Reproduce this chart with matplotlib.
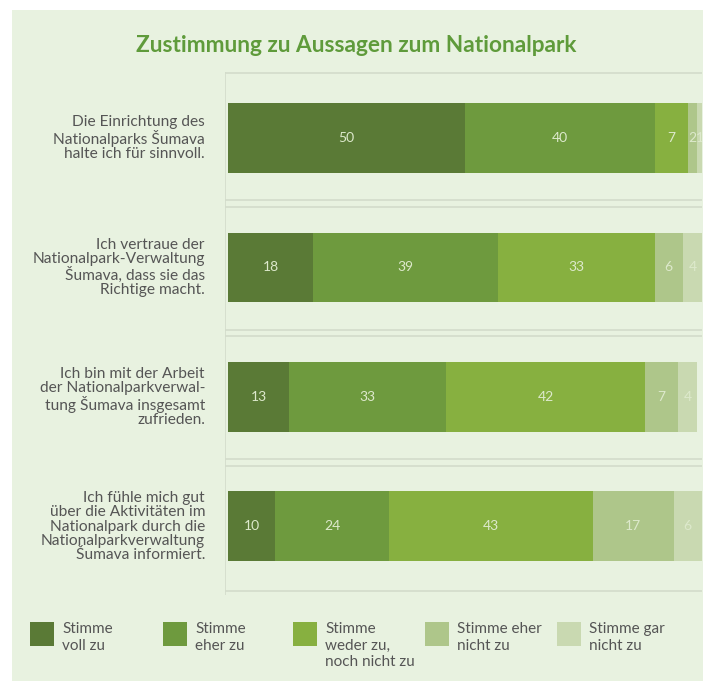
import numpy as np
import matplotlib.pyplot as plt
from matplotlib.patches import Rectangle

statements = [
    'Die Einrichtung des\nNationalparks Šumava\nhalte ich für sinnvoll.',
    'Ich vertraue der\nNationalpark-Verwaltung\nŠumava, dass sie das\nRichtige macht.',
    'Ich bin mit der Arbeit\nder Nationalparkverwal-\ntung Šumava insgesamt\nzufrieden.',
    'Ich fühle mich gut\nüber die Aktivitäten im\nNationalpark durch die\nNationalparkverwaltung\nŠumava informiert.',
]
categories = ['Stimme\nvoll zu', 'Stimme\neher zu', 'Stimme\nweder zu,\nnoch nicht zu',
              'Stimme eher\nnicht zu', 'Stimme gar\nnicht zu']
voll_zu = [50, 18, 13, 10]
eher_zu = [40, 39, 33, 24]
weder_noch = [7, 33, 42, 43]
eher_nicht = [2, 6, 7, 17]
gar_nicht = [1, 4, 4, 6]
series = [voll_zu, eher_zu, weder_noch, eher_nicht, gar_nicht]
colors = ['#5a7a36', '#6e9a3e', '#87b040', '#aec68a', '#c9d9b1']

plt.rcParams['font.family'] = ['Lato', 'DejaVu Sans']

W, H = 703, 681
fig = plt.figure(figsize=(W / 100, H / 100), dpi=100, facecolor='white')
fig.patches.append(Rectangle((12 / W, 0), 1, (H - 10) / H, transform=fig.transFigure,
                             facecolor='#e8f2e0', edgecolor='none', zorder=-10))

fig.text(356 / W, 1 - 45 / H, 'Zustimmung zu Aussagen zum Nationalpark', ha='center', va='center',
         fontsize=16.3, fontweight='bold', color='#5f9b3b')

# axes: x 225..702 px, y 72..595 px
ax = fig.add_axes([225 / W, 1 - 595 / H, (702 - 225) / W, (595 - 72) / H])
ax.set_facecolor('none')
ax.set_xlim(-0.6, 100)
ax.set_ylim(3.53, -0.51)
ax.axis('off')

y = np.arange(len(statements))
left = np.zeros(len(statements))
for vals, col in zip(series, colors):
    vals = np.array(vals, dtype=float)
    ax.barh(y, vals, left=left, height=0.54, color=col, edgecolor='none')
    for yi, l, v in zip(y, left, vals):
        ax.text(l + v / 2, yi, '%d' % v, ha='center', va='center', fontsize=10,
                color='#dde9cc', clip_on=True)
    left += vals

# row frames
line_col = '#d3dccb'
ax.axhline(-0.5, color=line_col, lw=1.2)
for i in range(3):
    ax.axhline(i + 0.48, color=line_col, lw=1.2)
    ax.axhline(i + 0.53, color=line_col, lw=1.2)
ax.axhline(3.5, color=line_col, lw=1.2)
ax.axvline(-0.6, color=line_col, lw=1.2)

for i, s in enumerate(statements):
    yc = 138 + 129.5 * i
    fig.text(205 / W, 1 - yc / H, s, ha='right', va='center', fontsize=11.2,
             color='#555555', linespacing=1.03)

# legend
leg_x = [30, 163, 293, 425, 557]
for x0, lab, col in zip(leg_x, categories, colors):
    fig.patches.append(Rectangle((x0 / W, 1 - 646 / H), 24 / W, 24 / H, transform=fig.transFigure,
                                 facecolor=col, edgecolor='none'))
    fig.text((x0 + 32) / W, 1 - 622 / H, lab, ha='left', va='top', fontsize=11,
             color='#555555', linespacing=1.25)

fig.savefig('out.png', dpi=100, facecolor='white')
